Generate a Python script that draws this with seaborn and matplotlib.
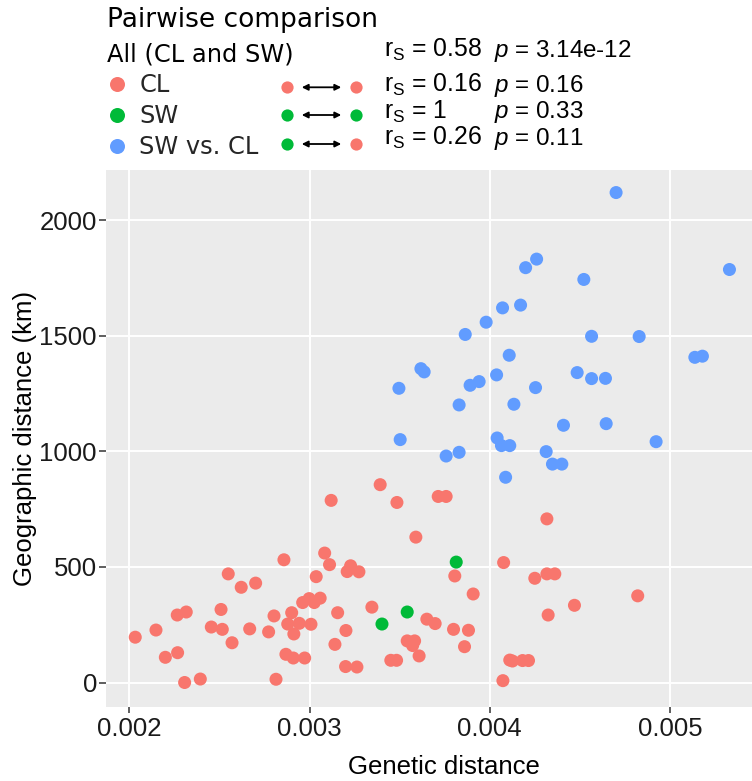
import numpy as np
import pandas as pd
import matplotlib
matplotlib.use("Agg")
import matplotlib.pyplot as plt
import seaborn as sns
from matplotlib.lines import Line2D
from matplotlib.patches import FancyArrowPatch

# ---------------- data ----------------
cl_x = [0.002033, 0.002148, 0.002200, 0.002268, 0.002266, 0.002316, 0.002307, 0.002394,
        0.002549, 0.002621, 0.002701, 0.002509, 0.002455, 0.002516, 0.002570, 0.002668,
        0.002773, 0.002803, 0.002814, 0.002858, 0.002901, 0.002879, 0.002943, 0.002913,
        0.002869, 0.002910, 0.002973, 0.002962, 0.002998, 0.003026, 0.003059, 0.003008,
        0.003037, 0.003084, 0.003111, 0.003120, 0.003156, 0.003141, 0.003200, 0.003202,
        0.003392, 0.003485, 0.003714, 0.003758, 0.004317, 0.003590, 0.003228, 0.003209,
        0.003274, 0.003806, 0.004077, 0.004250, 0.004317, 0.004361, 0.003908, 0.004821,
        0.004470, 0.004324, 0.003346, 0.003651, 0.003697, 0.003799, 0.003882, 0.003542,
        0.003583, 0.003572, 0.003860, 0.003608, 0.003451, 0.003483, 0.003263, 0.004111,
        0.004126, 0.004182, 0.004215, 0.004073]
cl_y = [196, 227, 109, 129, 292, 305, 0, 15,
        470, 412, 430, 316, 240, 230, 172, 232,
        219, 288, 14, 531, 302, 253, 256, 210,
        122, 106, 106, 346, 363, 346, 365, 252,
        458, 560, 510, 788, 302, 165, 69, 225,
        856, 779, 805, 805, 708, 629, 505, 480,
        479, 461, 519, 451, 470, 470, 383, 375,
        334, 292, 326, 274, 255, 230, 226, 180,
        180, 160, 155, 115, 96, 96, 67, 97,
        93, 95, 95, 8]

sw_x = [0.003814, 0.003542, 0.003402]
sw_y = [521, 305, 253]

swcl_x = [0.004701, 0.004260, 0.004199, 0.005330, 0.004522, 0.004171, 0.004071, 0.003980,
          0.003864, 0.004565, 0.004829, 0.005138, 0.005180, 0.004108, 0.003618, 0.003636,
          0.004038, 0.004485, 0.004565, 0.004642, 0.003496, 0.003891, 0.003941, 0.004254,
          0.003830, 0.004134, 0.004409, 0.004646, 0.003503, 0.004041, 0.004065, 0.004111,
          0.004923, 0.003830, 0.003758, 0.004313, 0.004348, 0.004400, 0.004088]
swcl_y = [2120, 1832, 1795, 1787, 1744, 1633, 1621, 1559,
          1506, 1498, 1497, 1407, 1412, 1416, 1358, 1344,
          1331, 1341, 1315, 1316, 1273, 1286, 1302, 1276,
          1201, 1204, 1113, 1120, 1051, 1058, 1025, 1025,
          1042, 996, 980, 999, 945, 945, 888]

groups = ["CL", "SW", "SW vs. CL"]
group_colors = ["#F8766D", "#00BA38", "#619CFF"]
x_ticks = [0.002, 0.003, 0.004, 0.005]
x_tick_labels = ["0.002", "0.003", "0.004", "0.005"]
y_ticks = [0, 500, 1000, 1500, 2000]
y_tick_labels = ["0", "500", "1000", "1500", "2000"]
stat_r = ["0.58", "0.16", "1", "0.26"]
stat_p = ["3.14e-12", "0.16", "0.33", "0.11"]
pair_colors = [("#F8766D", "#F8766D"), ("#00BA38", "#00BA38"), ("#00BA38", "#F8766D")]

# ---------------- styling ----------------
sns.set_theme(style="darkgrid", rc={
    "axes.facecolor": "#EBEBEB",
    "grid.color": "white",
    "grid.linewidth": 1.4,
    "axes.edgecolor": "#EBEBEB",
})
plt.rcParams["font.family"] = ["Liberation Sans", "DejaVu Sans"]
plt.rcParams["mathtext.fontset"] = "custom"
plt.rcParams["mathtext.rm"] = "Liberation Sans"
plt.rcParams["mathtext.it"] = "Liberation Sans:italic"

W, H = 752, 781
fig = plt.figure(figsize=(W / 100, H / 100), dpi=100)
ax_l, ax_r, ax_t, ax_b = 106, 752, 170, 707.3
ax = fig.add_axes([ax_l / W, 1 - ax_b / H, (ax_r - ax_l) / W, (ax_b - ax_t) / H])

df = pd.concat([
    pd.DataFrame({"x": cl_x, "y": cl_y, "group": "CL"}),
    pd.DataFrame({"x": swcl_x, "y": swcl_y, "group": "SW vs. CL"}),
    pd.DataFrame({"x": sw_x, "y": sw_y, "group": "SW"}),
], ignore_index=True)

palette = dict(zip(groups, group_colors))
sns.scatterplot(data=df, x="x", y="y", hue="group", hue_order=groups, palette=palette,
                s=88, linewidth=0, alpha=1, ax=ax, legend=False, zorder=3)

ax.set_xlim(0.0018707, 0.0054551)
ax.set_ylim(-107.3, 2217.6)
ax.set_xticks(x_ticks)
ax.set_xticklabels(x_tick_labels)
ax.set_yticks(y_ticks)
ax.set_yticklabels(y_tick_labels)
ax.grid(True, color="white", linewidth=1.4)
for sp in ax.spines.values():
    sp.set_visible(False)
ax.tick_params(axis="both", which="major", labelsize=18.5, labelcolor="#1A1A1A",
               color="#333333", width=1.1, bottom=True, left=True)
ax.tick_params(axis="x", length=4.3, pad=2.8)
ax.tick_params(axis="y", length=5.0, pad=1.5)

ax.set_xlabel("Genetic distance", fontsize=18.5, color="black")
ax.set_ylabel("Geographic distance (km)", fontsize=18.5, color="black")
axw, axh = ax_r - ax_l, ax_b - ax_t
ax.xaxis.label.set_va("center")
ax.xaxis.set_label_coords((444 - ax_l) / axw, -(767 - ax_b) / axh)
ax.yaxis.label.set_va("center")
ax.yaxis.set_label_coords(-(ax_l - 25) / axw, 0.5)

# ---------------- legend ----------------
def fx(px):
    return px / W

def fy(py):
    return 1 - py / H

fig.text(fx(107), fy(26.7), "Pairwise comparison", family="DejaVu Sans", fontsize=19,
         va="baseline", ha="left", color="black")
fig.text(fx(107), fy(61.7), "All (CL and SW)", family="DejaVu Sans", fontsize=17.4,
         va="baseline", ha="left", color="black")

handles = [Line2D([], [], marker="o", linestyle="", markersize=10.8,
                  markerfacecolor=c, markeredgewidth=0, color=c) for c in group_colors]
leg = ax.legend(handles, groups, loc="upper left", bbox_to_anchor=(fx(108), fy(73)),
                bbox_transform=fig.transFigure, frameon=False, borderpad=0, borderaxespad=0,
                handlelength=0.75, handletextpad=0.55, labelspacing=0.3,
                prop={"family": "DejaVu Sans", "size": 17.4})

row_centers = [87.3, 115, 144]
for yc, (c1, c2) in zip(row_centers, pair_colors):
    fig.add_artist(Line2D([fx(286.7)], [fy(yc)], marker="o", markersize=8.8,
                          markerfacecolor=c1, markeredgewidth=0, transform=fig.transFigure))
    fig.add_artist(Line2D([fx(355.7)], [fy(yc)], marker="o", markersize=8.8,
                          markerfacecolor=c2, markeredgewidth=0, transform=fig.transFigure))
    fig.add_artist(FancyArrowPatch((fx(299), fy(yc)), (fx(344), fy(yc)),
                                   transform=fig.transFigure, arrowstyle="<|-|>",
                                   mutation_scale=9, lw=1.3, color="black"))

stat_baselines = [56.7, 91.7, 118.3, 145]
for yb, r, p in zip(stat_baselines, stat_r, stat_p):
    fig.text(fx(384), fy(yb), r"$\mathrm{r_S}$ = " + r, fontsize=17.8,
             va="baseline", ha="left", color="black")
    fig.text(fx(494), fy(yb), r"$p$ = " + p, fontsize=17.4,
             va="baseline", ha="left", color="black")

fig.savefig("out.png", dpi=100)
